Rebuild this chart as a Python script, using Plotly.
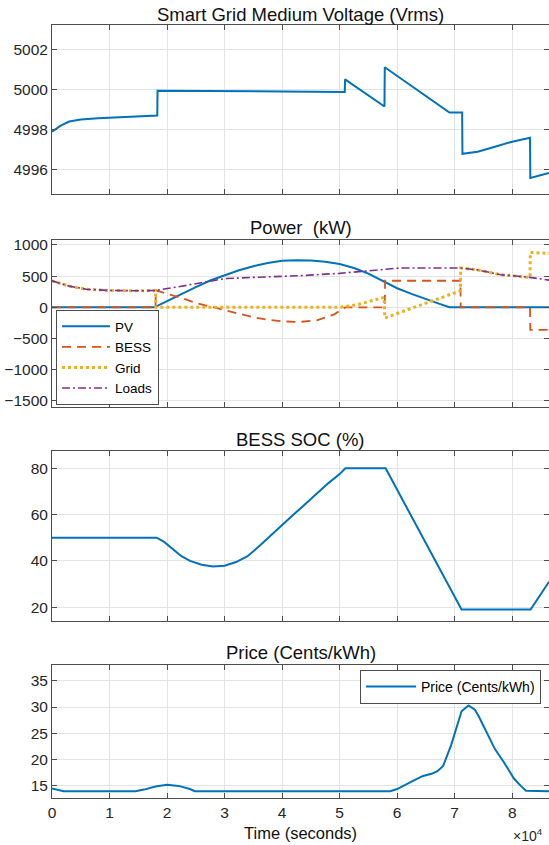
import plotly.graph_objects as go

# ---------------- data ----------------
# Voltage (Vrms)
t_volt = [0, 1500, 3000, 5000, 8000, 12000, 15000, 18300, 18350, 22000, 30000, 40000,
          50900, 50950, 57800, 57850, 69100, 71300, 71350, 74000, 77000, 80000, 83100, 83150, 86400]
volt = [4997.9, 4998.2, 4998.4, 4998.5, 4998.57, 4998.62, 4998.65, 4998.7, 4999.93, 4999.93, 4999.92, 4999.9,
        4999.87, 5000.5, 4999.15, 5001.1, 4998.85, 4998.85, 4996.8, 4996.9, 4997.15, 4997.4, 4997.6, 4995.6, 4995.85]

# Power (kW)
t_pv = [0, 17800, 20000, 22500, 25000, 27500, 30000, 32500, 35000, 37500, 40000, 42500, 45000,
        47500, 50000, 52500, 55000, 57500, 60000, 62500, 65000, 67500, 69100, 86400]
pv = [0, 0, 100, 215, 325, 430, 515, 595, 660, 710, 745, 755, 750,
      730, 696, 630, 540, 420, 306, 215, 127, 50, 0, 0]

t_bess = [0, 18000, 18050, 20000, 22500, 25000, 27500, 30000, 32500, 35000, 37500, 40000, 43000,
          46000, 49000, 50500, 51000, 57850, 57900, 71000, 71050, 83100, 83150, 86400]
bess = [0, 0, 270, 220, 150, 70, 10, -50, -110, -160, -200, -225, -235,
        -210, -117, -20, 0, 0, 426, 426, 0, 0, -361, -361]

t_grid = [0, 3000, 6000, 10000, 15000, 18000, 18050, 50000, 53000, 55000, 57750, 57850,
          71000, 71050, 74000, 78000, 83100, 83150, 86400]
grid = [425, 340, 290, 270, 265, 270, 0, 0, 40, 90, 160, -171,
        265, 631, 600, 523, 480, 880, 865]

t_load = [0, 3000, 6000, 10000, 15000, 18000, 22000, 26000, 30000, 35000, 40000, 43000, 50000,
          54500, 60500, 71000, 74000, 78000, 83100, 86400]
load = [425, 340, 290, 270, 265, 270, 330, 400, 460, 480, 495, 507, 545,
        577, 631, 631, 600, 523, 480, 436]

# BESS SOC (%)
t_soc = [0, 18200, 19500, 21000, 22500, 24000, 26000, 28000, 30000, 32000, 34000, 36000, 38000,
         40000, 42000, 44000, 46000, 48000, 50000, 51000, 58000, 71200, 83200, 86400]
soc = [50, 50, 48.2, 45, 42, 40, 38.3, 37.6, 37.9, 39.5, 42, 46.3, 51,
       55.5, 60, 64.5, 69, 73.5, 77.5, 80, 80, 19, 19, 31]

# Price (Cents/kWh)
t_price = [0, 2000, 14500, 16000, 18000, 20000, 22000, 24000, 24800, 58800, 60000, 61000, 62500,
           64500, 66000, 67000, 68000, 69400, 70500, 71200, 72400, 73500, 74200, 75000, 76000,
           77000, 78500, 79500, 80300, 81500, 82400, 86400]
price = [14.5, 14, 14, 14.3, 14.9, 15.2, 15.0, 14.4, 14, 14, 14.4, 14.9, 15.8,
         16.9, 17.3, 17.8, 18.8, 22.8, 26.5, 29.2, 30.3, 29.5, 28.2, 26.5, 24.4,
         22, 19.6, 17.8, 16.4, 15.0, 14.1, 14]

x_ticks = [0, 10000, 20000, 30000, 40000, 50000, 60000, 70000, 80000]
x_ticklabels = ["0", "1", "2", "3", "4", "5", "6", "7", "8"]
volt_ticks = [4996, 4998, 5000, 5002]
power_ticks = [-1500, -1000, -500, 0, 500, 1000]
soc_ticks = [20, 40, 60, 80]
price_ticks = [15, 20, 25, 30, 35]

titles = ["Smart Grid Medium Voltage (Vrms)", "Power  (kW)", "BESS SOC (%)", "Price (Cents/kWh)"]

# ---------------- figure ----------------
W, H = 549, 845
PL, PR, PT, PB = 52, 549, 25, 798           # plot area in window pixels
ML, MR, MT, MB = PL, W - PR, PT, H - PB
PH = PB - PT
PW = PR - PL

def ypap(px):
    return (PB - px) / PH

def xpap(px):
    return (px - PL) / PW

def ydom(top_px, bot_px):
    return [ypap(bot_px), ypap(top_px)]

BLUE = "#0072BD"
FONT = "Liberation Sans, Arial, sans-serif"
AXC = "#4d4d4d"

fig = go.Figure()
fig.add_trace(go.Scatter(x=t_volt, y=volt, mode="lines", line=dict(color=BLUE, width=2),
                         showlegend=False, xaxis="x", yaxis="y"))
fig.add_trace(go.Scatter(x=t_pv, y=pv, mode="lines", name="PV", line=dict(color=BLUE, width=2),
                         xaxis="x2", yaxis="y2", legend="legend"))
fig.add_trace(go.Scatter(x=t_bess, y=bess, mode="lines", name="BESS",
                         line=dict(color="#D95319", width=1.8, dash="9px,6px"),
                         xaxis="x2", yaxis="y2", legend="legend"))
fig.add_trace(go.Scatter(x=t_grid, y=grid, mode="lines", name="Grid",
                         line=dict(color="#EDB120", width=3, dash="3px,3px"),
                         xaxis="x2", yaxis="y2", legend="legend"))
fig.add_trace(go.Scatter(x=t_load, y=load, mode="lines", name="Loads",
                         line=dict(color="#7E2F8E", width=1.6, dash="8px,3px,2px,3px"),
                         xaxis="x2", yaxis="y2", legend="legend"))
fig.add_trace(go.Scatter(x=t_soc, y=soc, mode="lines", line=dict(color=BLUE, width=2),
                         showlegend=False, xaxis="x3", yaxis="y3"))
fig.add_trace(go.Scatter(x=t_price, y=price, mode="lines", name="Price (Cents/kWh)",
                         line=dict(color=BLUE, width=2), xaxis="x4", yaxis="y4", legend="legend2"))

common = dict(showline=True, linecolor=AXC, linewidth=1, mirror="ticks", ticks="inside",
              ticklen=5, tickcolor=AXC, showgrid=True, gridcolor="#e3e3e3", gridwidth=1,
              zeroline=False, tickfont=dict(size=15.5, color="#262626", family=FONT))

def xax(anchor, labels):
    d = dict(common)
    d.update(domain=[0, 1], range=[0, 86400], anchor=anchor, tickvals=x_ticks,
             ticktext=x_ticklabels, showticklabels=labels)
    return d

def yax(anchor, dom, rng, tv):
    d = dict(common)
    d.update(domain=dom, range=rng, anchor=anchor, tickvals=tv)
    return d

layout = dict(
    width=W, height=H, margin=dict(l=ML, r=MR, t=MT, b=MB, pad=0),
    paper_bgcolor="white", plot_bgcolor="white",
    font=dict(family=FONT, color="#262626"),
    xaxis=xax("y", False), xaxis2=xax("y2", False), xaxis3=xax("y3", False), xaxis4=xax("y4", True),
    yaxis=yax("x", ydom(25, 194), [4994.8, 5003.2], volt_ticks),
    yaxis2=yax("x2", ydom(240, 407), [-1600, 1080], power_ticks),
    yaxis3=yax("x3", ydom(451, 621), [14, 87.5], soc_ticks),
    yaxis4=yax("x4", ydom(665, 798), [12.7, 38], price_ticks),
    legend=dict(x=xpap(56), y=ypap(405), xanchor="left", yanchor="bottom", bgcolor="white",
                bordercolor=AXC, borderwidth=1, font=dict(size=13.5, color="#000000", family=FONT),
                tracegroupgap=0, itemwidth=48),
    legend2=dict(x=xpap(541), y=ypap(670), xanchor="right", yanchor="top", bgcolor="white",
                 bordercolor=AXC, borderwidth=1, font=dict(size=14, color="#000000", family=FONT),
                 itemwidth=50),
)
fig.update_layout(**layout)

title_y = [14.5, 227.5, 439, 652.5]
for txt, yp in zip(titles, title_y):
    fig.add_annotation(text=txt, x=0.5, y=ypap(yp), xref="paper", yref="paper",
                       xanchor="center", yanchor="middle", showarrow=False,
                       font=dict(size=18.5, color="#111111", family=FONT))

fig.add_annotation(text="Time (seconds)", x=0.5, y=ypap(833), xref="paper", yref="paper",
                   xanchor="center", yanchor="middle", showarrow=False,
                   font=dict(size=16.5, color="#111111", family=FONT))
fig.add_annotation(text="×10<sup>4</sup>", x=xpap(528), y=ypap(835), xref="paper",
                   yref="paper", xanchor="center", yanchor="middle", showarrow=False,
                   font=dict(size=14, color="#262626", family=FONT))

# remove the default page margin so the figure fills the window exactly
fig.write_html("out.html", config={"displayModeBar": False},
               post_script="document.body.style.margin='0';document.body.style.overflow='hidden';")
